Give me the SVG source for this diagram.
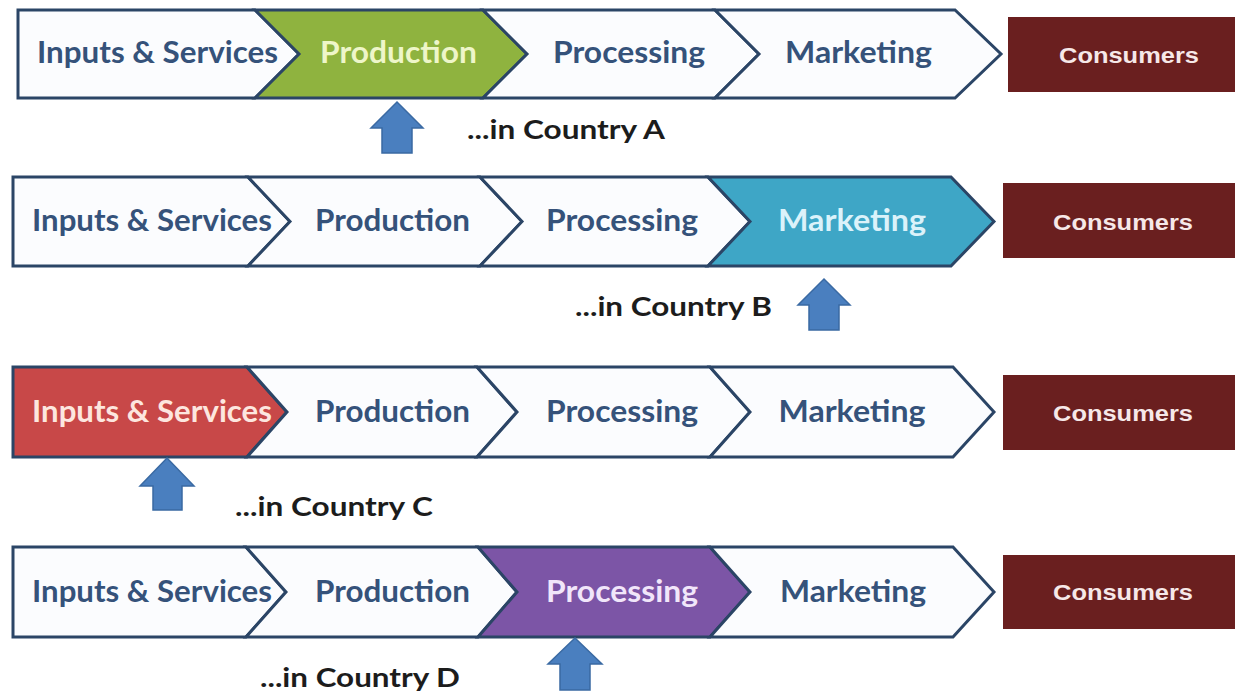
<svg xmlns="http://www.w3.org/2000/svg" width="1235" height="693" viewBox="0 0 1235 693">
<style>
.seg{fill:#fbfcfe;stroke:#2b4566;stroke-width:3;stroke-linejoin:miter}
.green{fill:#8fb33f}
.teal{fill:#3ea6c6}
.red{fill:#c84848}
.purple{fill:#7c55a6}
.lbl{font-family:Lato,"Open Sans",sans-serif;font-weight:bold;font-size:30px;fill:#35527a;text-anchor:middle}
.lg{fill:#eef6c9}.lt{fill:#dbf2fa}.lr{fill:#fde6df}.lp{fill:#f1e6fa}
.cons{fill:#6a1f1f}
.ctext{font-family:"Liberation Sans",Arial,sans-serif;font-weight:bold;font-size:22px;fill:#f6e8e8;text-anchor:middle}
.country{font-family:Lato,"Open Sans",sans-serif;font-weight:bold;font-size:27px;fill:#1c1c1c}
.arrow{fill:#4a7fbf;stroke:#3a6aa3;stroke-width:1.5}
</style>
<rect width="1235" height="693" fill="#ffffff"/>

<!-- Row 1 -->
<g id="row1">
<g id="r1-inputs"><polygon class="seg" points="18,10 255,10 299,54 255,98 18,98"/><text class="lbl" x="157.5" y="63" textLength="241" lengthAdjust="spacingAndGlyphs">Inputs &amp; Services</text></g>
<g id="r1-production"><polygon class="seg green" points="255,10 483,10 527,54 483,98 255,98 299,54"/><text class="lbl lg" x="398.5" y="63" textLength="157" lengthAdjust="spacingAndGlyphs">Production</text></g>
<g id="r1-processing"><polygon class="seg" points="483,10 715,10 759,54 715,98 483,98 527,54"/><text class="lbl" x="629" y="63" textLength="152" lengthAdjust="spacingAndGlyphs">Processing</text></g>
<g id="r1-marketing"><polygon class="seg" points="715,10 955,10 1001,54 955,98 715,98 759,54"/><text class="lbl" x="858.5" y="63" textLength="147" lengthAdjust="spacingAndGlyphs">Marketing</text></g>
<g id="r1-consumers"><rect class="cons" x="1008" y="17" width="227" height="75"/><text class="ctext" x="1129" y="63" textLength="140" lengthAdjust="spacingAndGlyphs">Consumers</text></g>
<g id="r1-label"><text class="country" x="467" y="139" textLength="198" lengthAdjust="spacingAndGlyphs">...in Country A</text></g>
</g>

<!-- Row 2 -->
<g id="row2">
<g id="r2-inputs"><polygon class="seg" points="13,177 248,177 290,221.5 248,266 13,266"/><text class="lbl" x="152" y="231" textLength="240" lengthAdjust="spacingAndGlyphs">Inputs &amp; Services</text></g>
<g id="r2-production"><polygon class="seg" points="248,177 480,177 522,221.5 480,266 248,266 290,221.5"/><text class="lbl" x="392.5" y="231" textLength="155" lengthAdjust="spacingAndGlyphs">Production</text></g>
<g id="r2-processing"><polygon class="seg" points="480,177 708,177 750,221.5 708,266 480,266 522,221.5"/><text class="lbl" x="622" y="231" textLength="152" lengthAdjust="spacingAndGlyphs">Processing</text></g>
<g id="r2-marketing"><polygon class="seg teal" points="708,177 951,177 994,221.5 951,266 708,266 750,221.5"/><text class="lbl lt" x="852" y="231" textLength="148" lengthAdjust="spacingAndGlyphs">Marketing</text></g>
<g id="r2-consumers"><rect class="cons" x="1003" y="183" width="232" height="75"/><text class="ctext" x="1123" y="230" textLength="140" lengthAdjust="spacingAndGlyphs">Consumers</text></g>
<g id="r2-label"><text class="country" x="575" y="316" textLength="197" lengthAdjust="spacingAndGlyphs">...in Country B</text></g>
</g>

<!-- Row 3 -->
<g id="row3">
<g id="r3-inputs"><polygon class="seg red" points="13,367 247,367 287,412 247,457 13,457"/><text class="lbl lr" x="152" y="422" textLength="240" lengthAdjust="spacingAndGlyphs">Inputs &amp; Services</text></g>
<g id="r3-production"><polygon class="seg" points="247,367 477,367 517,412 477,457 247,457 287,412"/><text class="lbl" x="392.5" y="422" textLength="155" lengthAdjust="spacingAndGlyphs">Production</text></g>
<g id="r3-processing"><polygon class="seg" points="477,367 710,367 750,412 710,457 477,457 517,412"/><text class="lbl" x="622" y="422" textLength="152" lengthAdjust="spacingAndGlyphs">Processing</text></g>
<g id="r3-marketing"><polygon class="seg" points="710,367 953,367 994,412 953,457 710,457 750,412"/><text class="lbl" x="852" y="422" textLength="147" lengthAdjust="spacingAndGlyphs">Marketing</text></g>
<g id="r3-consumers"><rect class="cons" x="1003" y="375" width="232" height="75"/><text class="ctext" x="1123" y="421" textLength="140" lengthAdjust="spacingAndGlyphs">Consumers</text></g>
<g id="r3-label"><text class="country" x="235" y="516" textLength="198" lengthAdjust="spacingAndGlyphs">...in Country C</text></g>
</g>

<!-- Row 4 -->
<g id="row4">
<g id="r4-inputs"><polygon class="seg" points="13,547 246,547 286,592 246,637 13,637"/><text class="lbl" x="152" y="602" textLength="240" lengthAdjust="spacingAndGlyphs">Inputs &amp; Services</text></g>
<g id="r4-production"><polygon class="seg" points="246,547 478,547 517,592 478,637 246,637 286,592"/><text class="lbl" x="392.5" y="602" textLength="155" lengthAdjust="spacingAndGlyphs">Production</text></g>
<g id="r4-processing"><polygon class="seg purple" points="478,547 710,547 750,592 710,637 478,637 517,592"/><text class="lbl lp" x="622" y="602" textLength="152" lengthAdjust="spacingAndGlyphs">Processing</text></g>
<g id="r4-marketing"><polygon class="seg" points="710,547 953,547 994,592 953,637 710,637 750,592"/><text class="lbl" x="853" y="602" textLength="146" lengthAdjust="spacingAndGlyphs">Marketing</text></g>
<g id="r4-consumers"><rect class="cons" x="1003" y="555" width="232" height="74"/><text class="ctext" x="1123" y="600" textLength="140" lengthAdjust="spacingAndGlyphs">Consumers</text></g>
<g id="r4-label"><text class="country" x="260" y="687" textLength="200" lengthAdjust="spacingAndGlyphs">...in Country D</text></g>
</g>

<!-- Pointer arrows -->
<g id="connectors">
<polygon class="arrow" points="397,102 423,128 412,128 412,153 382,153 382,128 371,128"/>
<polygon class="arrow" points="824,279 850,305 839,305 839,330 809,330 809,305 798,305"/>
<polygon class="arrow" points="167,458 194,486 182,486 182,510 153,510 153,486 140,486"/>
<polygon class="arrow" points="575,638 602,664 590,664 590,690 560,690 560,664 548,664"/>
</g>
</svg>
